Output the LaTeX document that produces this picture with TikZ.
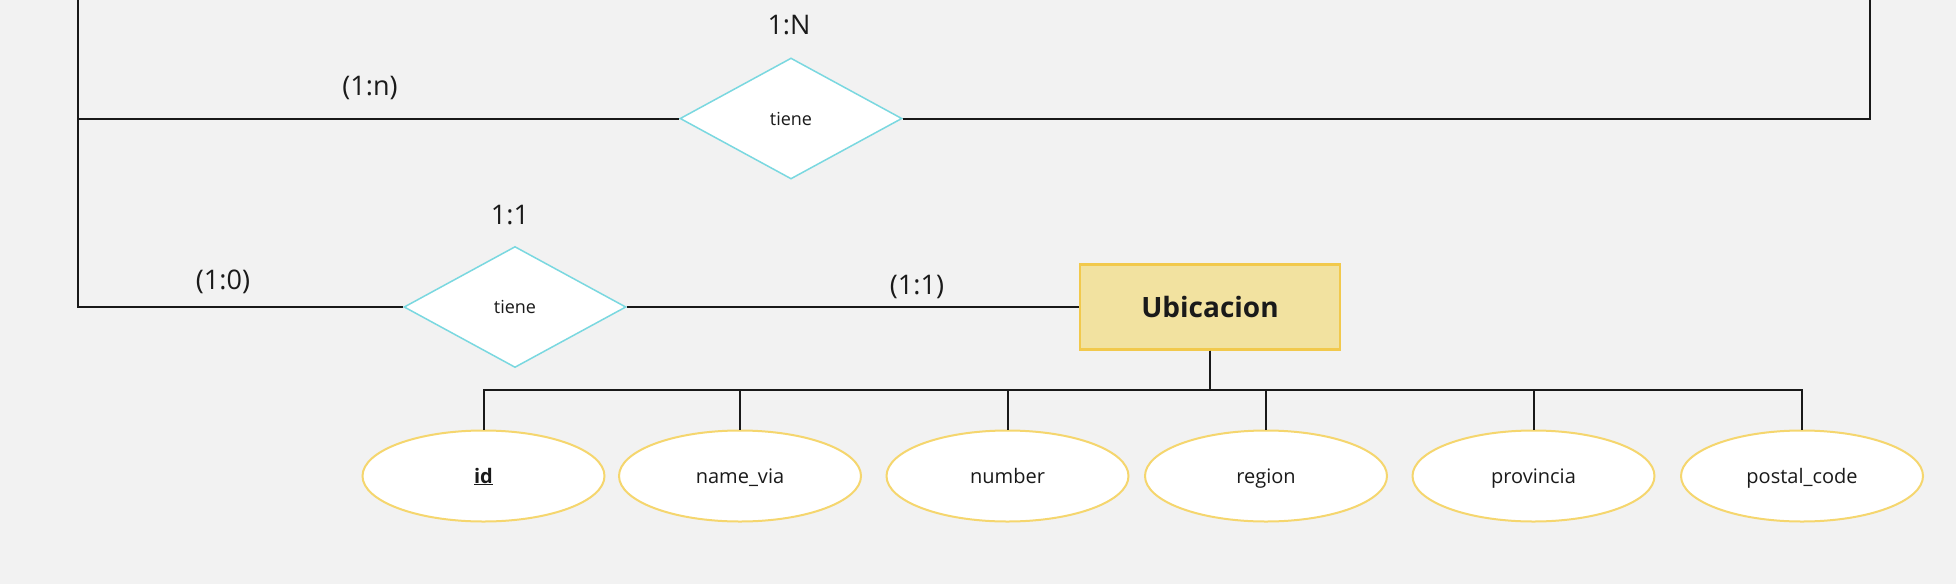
\documentclass[tikz,border=0pt]{standalone}
\usepackage{fontspec}
\setmainfont{Open Sans}
\usetikzlibrary{shapes.geometric,positioning}
\definecolor{fondo}{RGB}{242,242,242}
\definecolor{relCyan}{RGB}{122,216,224}
\definecolor{entFill}{RGB}{242,226,160}
\definecolor{entBorde}{RGB}{242,201,76}
\definecolor{attBorde}{RGB}{245,214,110}
\definecolor{texto}{RGB}{26,26,26}

\tikzset{
    relacion/.style={diamond, draw=relCyan, fill=white, line width=1.5pt, minimum width=222pt, minimum height=121pt, inner sep=0pt, text=texto, font=\fontsize{18}{22}\selectfont},
    entidad/.style={rectangle, draw=entBorde, fill=entFill, line width=2.5pt, minimum width=260pt, minimum height=85pt, text=texto, font=\fontsize{28}{32}\selectfont\bfseries},
    atributo/.style={ellipse, draw=attBorde, fill=white, line width=2pt, minimum width=242pt, minimum height=91pt, inner sep=0pt, text height=14pt, text depth=0pt, text=texto, font=\fontsize{20}{24}\selectfont},
    card/.style={text=texto, font=\fontsize{27}{32}\selectfont},
    linea/.style={line width=2pt, black!90},
}

\begin{document}
\begin{tikzpicture}[x=1pt, y=-1pt]
    % Fondo
    \fill[fondo] (0,0) rectangle (1956,584);
    \useasboundingbox (0,0) rectangle (1956,584);

    % Entidad y relaciones
    \node[entidad] (ubic) at (1210,307) {Ubicacion};
    \node[relacion] (rel1) at (791,118.5) {tiene};
    \node[relacion] (rel2) at (515,307) {tiene};

    % Atributos
    \node[atributo] (id) at (483.5,476) {\underline{\textbf{id}}};
    \node[atributo] (namevia) at (740,476) {name\_via};
    \node[atributo] (number) at (1007.5,476) {number};
    \node[atributo] (region) at (1266,476) {region};
    \node[atributo] (provincia) at (1533.5,476) {provincia};
    \node[atributo] (postal) at (1802,476) {postal\_code};

    % Extremos fuera del cuadro
    \coordinate (izq) at (78,0);
    \coordinate (der) at (1870,0);
    \coordinate (bus) at (0,390);

    % Conexiones
    \draw[linea] (rel1.west) -| (izq);
    \draw[linea] (rel2.west) -| (izq);
    \draw[linea] (rel1.east) -| (der);
    \draw[linea] (rel2.east) -- (ubic.west);
    \foreach \a in {id,namevia,number,region,provincia,postal}
        \draw[linea] (ubic.south) -- (ubic.south |- bus) -| (\a.north);

    % Cardinalidades
    \node[card] (c1N) at (789,25) {1:N};
    \node[card] (c1n) at (370,88) {(1:n)};
    \node[card] (c11) at (510,215) {1:1};
    \node[card] (c10) at (223,282) {(1:0)};
    \node[card] (c11b) at (917,287) {(1:1)};
\end{tikzpicture}
\end{document}
